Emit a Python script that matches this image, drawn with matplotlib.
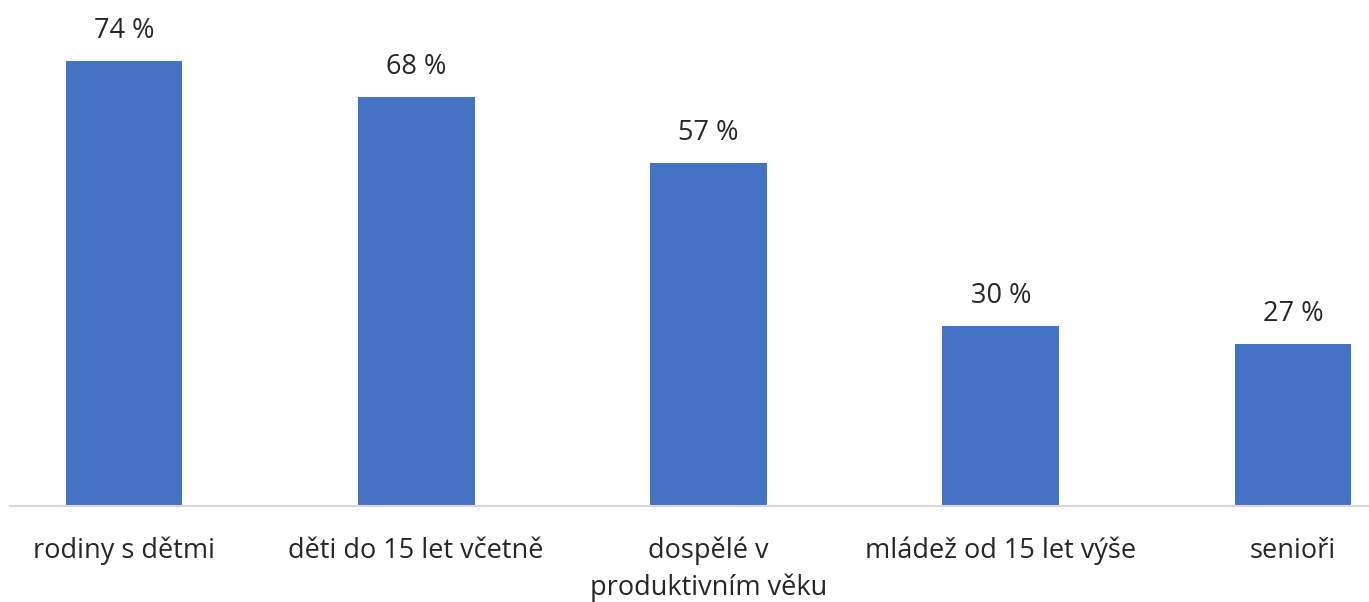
import matplotlib.pyplot as plt

categories = ["rodiny s dětmi", "děti do 15 let včetně", "dospělé v\nproduktivním věku",
              "mládež od 15 let výše", "senioři"]
values = [74, 68, 57, 30, 27]
value_labels = ["74 %", "68 %", "57 %", "30 %", "27 %"]

plt.rcParams['font.family'] = ['Open Sans', 'DejaVu Sans']

fig = plt.figure(figsize=(13.69, 6.02), dpi=100)
ax = fig.add_axes([10 / 1369, 96 / 602, 1 - 10 / 1369, 506 / 602])

x = range(len(categories))
bars = ax.bar(x, values, width=0.4, color="#4472C4")

for bar, lab in zip(bars, value_labels):
    ax.annotate(lab, (bar.get_x() + bar.get_width() / 2, bar.get_height()),
                xytext=(0, 30), textcoords="offset pixels", ha="center", va="center",
                fontsize=19.5, color="#262626")

ax.set_xlim(-0.39, 4.26)
ax.set_ylim(0, 84.2)
ax.set_xticks(list(x))
ax.set_xticklabels(categories, fontsize=19.5, color="#262626", linespacing=1.4)
ax.tick_params(axis="x", length=0, pad=22)
ax.set_yticks([])
for s in ["top", "right", "left"]:
    ax.spines[s].set_visible(False)
ax.spines["bottom"].set_color("#D9D9D9")
ax.spines["bottom"].set_linewidth(1.5)

fig.savefig("out.png", dpi=100)
